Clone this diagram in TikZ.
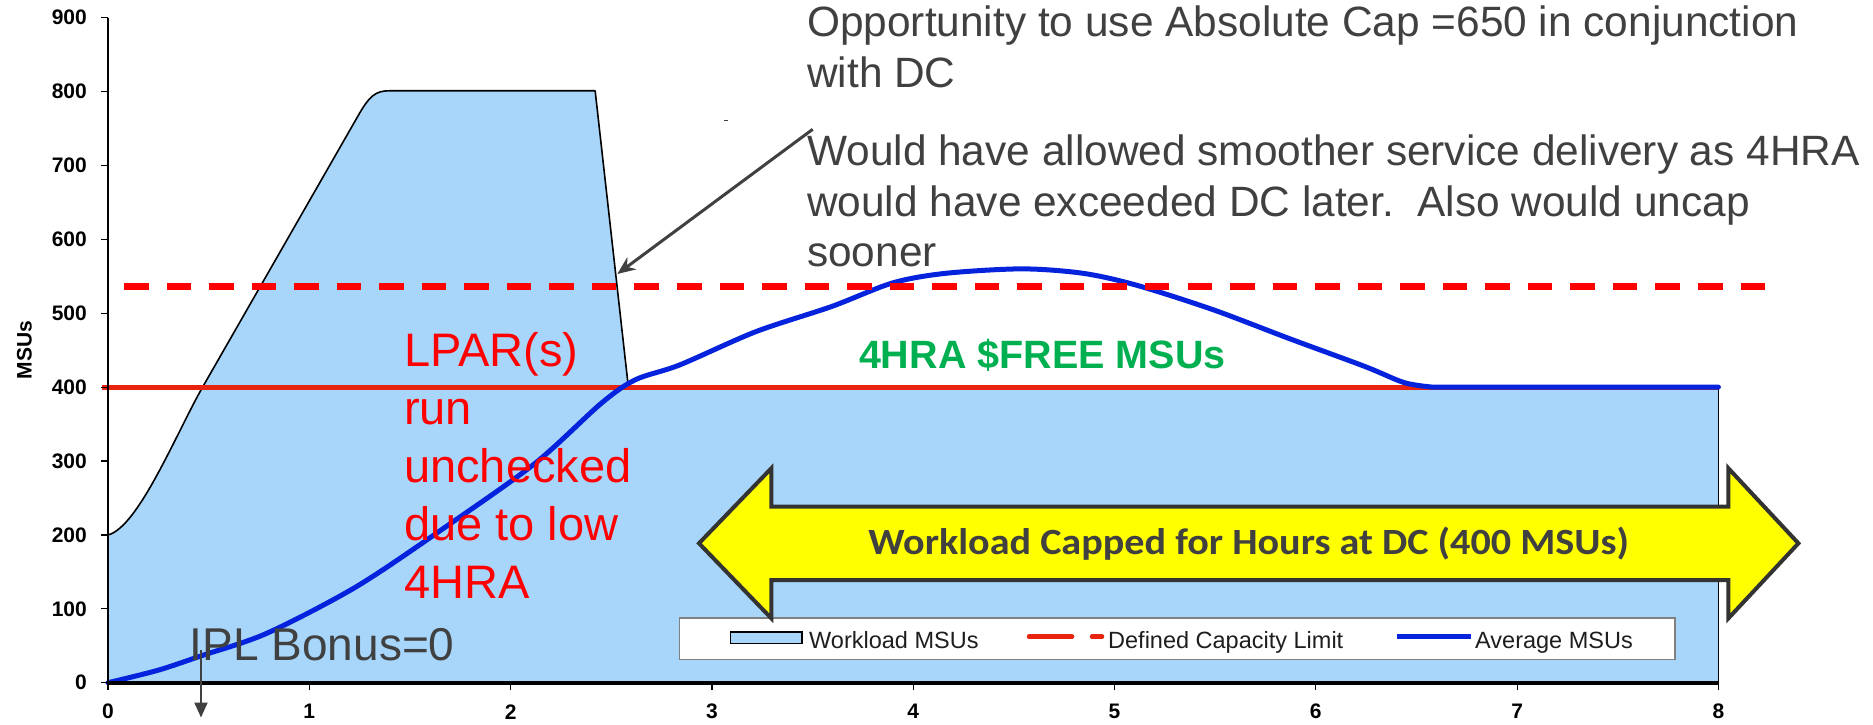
\documentclass[tikz,border=0pt]{standalone}
\usepackage{fontspec}
\setmainfont{Liberation Sans}
\newfontfamily\calfont{Carlito}
\usetikzlibrary{arrows.meta}
\definecolor{wlblue}{RGB}{168,214,251}
\definecolor{dcred}{RGB}{232,36,16}
\definecolor{dashred}{RGB}{255,0,0}
\definecolor{avgblue}{RGB}{5,35,220}
\definecolor{freegreen}{RGB}{0,176,80}
\definecolor{txtgray}{RGB}{64,64,64}
\definecolor{arrowgray}{RGB}{51,51,51}
\definecolor{legborder}{RGB}{128,128,128}
\definecolor{legtext}{RGB}{30,30,30}
\definecolor{capyellow}{RGB}{255,255,0}
\begin{document}
\begin{tikzpicture}[x=1pt,y=-1pt,
  wlline/.style={draw=black,line width=1.6pt,line join=round},
  dcline/.style={draw=dcred,line width=5pt},
  avgline/.style={draw=avgblue,line width=5pt,line join=round,line cap=round},
  dashline/.style={draw=dashred,line width=6.5pt,dash pattern=on 24.5pt off 18.04pt},
  ticklab/.style={font=\bfseries\fontsize{21}{24}\selectfont,inner sep=0pt,text=black},
  toptext/.style={font=\fontsize{42.4}{50.5}\selectfont,text=txtgray,align=left,inner sep=0pt},
  lpartext/.style={font=\fontsize{47}{58}\selectfont,text=dashred,align=left,inner sep=0pt},
  legfont/.style={font=\fontsize{23.5}{28}\selectfont,text=legtext,inner sep=0pt},
  annarrow/.style={draw=txtgray,line width=3pt,-{Stealth[length=18pt,width=15pt]}},
  iplarrow/.style={draw=txtgray,line width=2pt,-{Triangle[length=15pt,width=13pt]}}
]
\useasboundingbox (0,0) rectangle (1873,724);

% ---------- chart in data coordinates ----------
\begin{scope}[shift={(108pt,-682.7pt)},x=201.3pt,y=0.739pt]
  % workload area
  \fill[wlblue] (0,0) -- (0,200) .. controls (0.15,210) and (0.34,338) .. (0.47,400) -- (1.24,766)
     .. controls (1.30,795) and (1.33,801) .. (1.40,801)
     -- (2.42,801) -- (2.585,400) -- (8,400) -- (8,0) -- cycle;
  \draw[wlline] (0,200) .. controls (0.15,210) and (0.34,338) .. (0.47,400) -- (1.24,766)
     .. controls (1.30,795) and (1.33,801) .. (1.40,801)
     -- (2.42,801) -- (2.585,400);
  \draw[wlline] (8,400) -- (8,0);
  % defined capacity
  \draw[dcline] (-0.03,400) -- (8,400);
  % average MSUs
  \draw[avgline] plot[smooth,tension=0.5] coordinates {(0,0) (0.25,17) (0.47,37) (0.79,67) (1.234,130) (1.678,211) (2.122,297) (2.45,378) (2.62,410) (2.84,430) (3.218,475) (3.594,509) (3.898,541) (4.162,554) (4.54,560) (4.843,554) (5.108,538) (5.487,505) (5.865,466) (6.243,428) (6.44,406) (6.58,400)} -- (8,400);
  % axes
  \draw[black,line width=1.6pt] (0,0) -- (0,900);
  \foreach \v in {0,100,...,900}{
    \draw[black,line width=1.2pt] (0,\v) -- ++(-7pt,0pt);
    \node[ticklab,anchor=east] (yl\v) at ([xshift=-21pt]0,\v) {\v};
  }
  \draw[black,line width=4pt] (0,0) -- (8,0);
  \foreach \t in {0,...,8}{
    \draw[black,line width=1.2pt] (\t,0) -- ++(0pt,-7pt);
    \node[ticklab] (xl\t) at ([yshift=-29pt]\t,0) {\t};
  }
\end{scope}

\node[font=\bfseries\fontsize{21}{24}\selectfont,rotate=90,inner sep=0pt] (ylab) at (24.5,350) {MSUs};

% legend
\node[draw=legborder,fill=white,line width=1.5pt,minimum width=995.5pt,minimum height=41.5pt,anchor=north west,inner sep=0pt] (legend) at (678.5,617) {};
\draw[fill=wlblue,draw=black,line width=1.8pt] (730.5,632) rectangle (802,643.5);
\node[legfont,anchor=base west] (lg1) at (809,648.3) {Workload MSUs};
\coordinate (lr1) at (1029,636.7); \coordinate (lr2) at (1072,636.7);
\coordinate (lr3) at (1092,636.7); \coordinate (lr4) at (1102,636.7);
\draw[dcline,line width=4.5pt,line cap=round] (lr1) -- (lr2);
\draw[dcline,line width=4.5pt,line cap=round] (lr3) -- (lr4);
\node[legfont,anchor=base west] (lg2) at (1108,648.3) {Defined Capacity Limit};
\coordinate (lb1) at (1396.5,636.7); \coordinate (lb2) at (1470.6,636.7);
\draw[avgline,line width=4.5pt,line cap=butt] (lb1) -- (lb2);
\node[legfont,anchor=base west] (lg3) at (1475,648.3) {Average MSUs};

% dashed absolute cap line
\coordinate (dashS) at (124,286.7); \coordinate (dashE) at (1765,286.7);
\draw[dashline] (dashS) -- (dashE);

% yellow double arrow
\draw[fill=capyellow,draw=arrowgray,line width=4pt]
  (699,543.3) -- (771.3,468.3) -- (771.3,506.7) -- (1728.4,506.7) -- (1728.4,468.3) -- (1798.4,543.3)
  -- (1728.4,618.3) -- (1728.4,580) -- (771.3,580) -- (771.3,618.3) -- cycle;
\node[font=\calfont\bfseries\fontsize{37}{40}\selectfont,text=txtgray,inner sep=0pt] (captext) at (1248.7,543.3) {\scalebox{1.085}[1]{Workload Capped for Hours at DC (400 MSUs)}};

% texts
\node[toptext,anchor=base west] (opp) at (807,87) {Opportunity to use Absolute Cap =650 in conjunction\\with DC};
\node[toptext,anchor=base west] (would) at (807,266.7) {Would have allowed smoother service delivery as 4HRA\\would have exceeded DC later.\ \ Also would uncap\\sooner};
\coordinate (annS) at (812.7,129.3);
\coordinate (annE) at (617.3,274);
\draw[annarrow] (annS) -- (annE);
\coordinate (mark1) at (724,120.7); \coordinate (mark2) at (727.5,120.7);
\draw[txtgray,line width=1pt] (mark1) -- (mark2);

\node[font=\bfseries\fontsize{39.5}{44}\selectfont,text=freegreen,inner sep=0pt,anchor=base west] (free) at (858.8,368.3) {4HRA \$FREE MSUs};

\node[lpartext,anchor=base west] (lpar) at (404,598.3) {LPAR(s)\\run\\unchecked\\due to low\\4HRA};

\node[font=\fontsize{46}{52}\selectfont,text=txtgray,inner sep=0pt,anchor=base west] (ipl) at (189.7,660) {IPL Bonus=0};
\coordinate (iplS) at (201,650);
\coordinate (iplE) at (201,717.5);
\draw[iplarrow] (iplS) -- (iplE);
\end{tikzpicture}
\end{document}
